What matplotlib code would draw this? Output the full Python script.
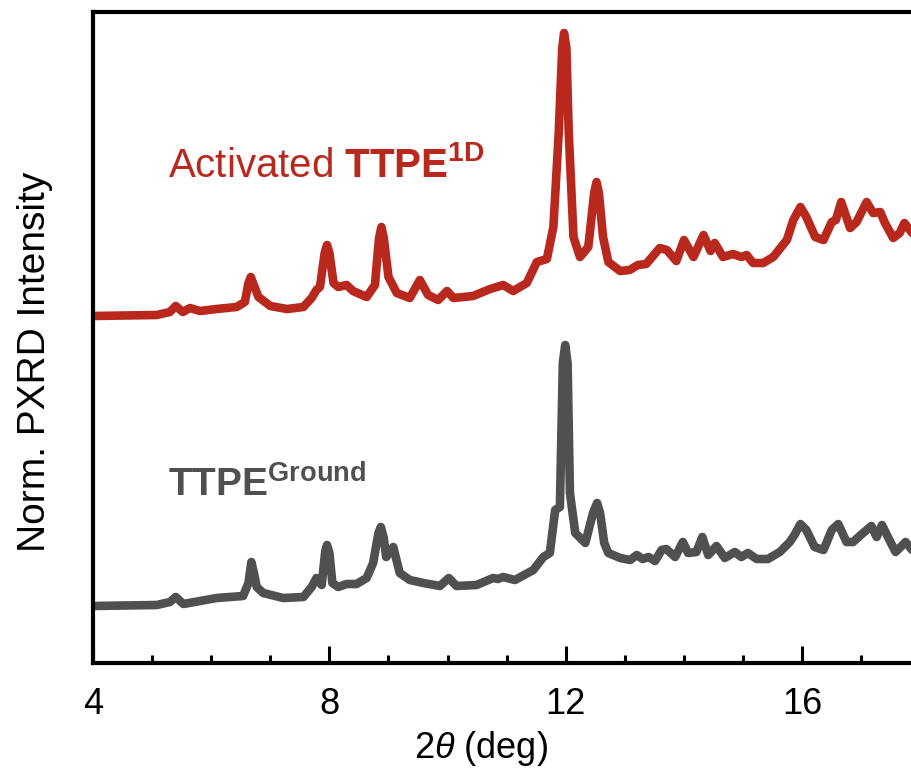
import numpy as np
import matplotlib.pyplot as plt

plt.rcParams['font.family'] = ['Liberation Sans', 'DejaVu Sans']
plt.rcParams['mathtext.fontset'] = 'custom'
plt.rcParams['mathtext.rm'] = 'Liberation Sans'
plt.rcParams['mathtext.it'] = 'Liberation Sans:italic'
plt.rcParams['mathtext.bf'] = 'Liberation Sans:bold'

# PXRD patterns (2theta in deg, stacked normalised intensity)
tt_act = [4.00, 5.08, 5.30, 5.40, 5.52, 5.64, 5.81, 6.09, 6.43, 6.57, 6.63, 6.67, 6.72, 6.80,
          7.00, 7.28, 7.56, 7.70, 7.78, 7.84, 7.92, 7.96, 8.00, 8.07, 8.15, 8.29, 8.40, 8.63,
          8.77, 8.84, 8.88, 8.92, 9.00, 9.14, 9.36, 9.53, 9.67, 9.84, 9.99, 10.10, 10.43, 10.72,
          10.94, 11.11, 11.34, 11.51, 11.68, 11.79, 11.88, 11.94, 11.97, 12.01, 12.05, 12.13,
          12.24, 12.38, 12.48, 12.52, 12.56, 12.63, 12.72, 12.92, 13.08, 13.22, 13.36, 13.59, 13.71,
          13.87, 14.00, 14.16, 14.33, 14.45, 14.52, 14.66, 14.83, 14.97, 15.06, 15.17,
          15.34, 15.51, 15.74, 15.85, 15.97, 16.07, 16.22, 16.36, 16.50, 16.57, 16.66,
          16.81, 16.92, 17.09, 17.20, 17.32, 17.40, 17.54, 17.65, 17.73, 17.86, 17.95]
int_act = [347, 348, 351, 357, 351, 355, 352, 354, 356, 361, 380, 386, 378, 366,
           357, 354, 356, 365, 373, 376, 410, 418, 410, 380, 376, 378, 372, 366,
           378, 425, 436, 425, 386, 370, 365, 383, 368, 363, 372, 365, 367, 374,
           378, 372, 380, 401, 404, 436, 530, 615, 630, 615, 530, 426,
           406, 416, 470, 481, 470, 426, 401, 392, 393, 398, 399, 415, 413,
           402, 423, 406, 428, 412, 420, 406, 409, 406, 408, 400,
           400, 406, 423, 443, 456, 446, 426, 423, 441, 443, 461,
           435, 441, 461, 450, 451, 440, 425, 430, 440, 430, 425]

tt_gnd = [4.00, 5.08, 5.30, 5.40, 5.53, 6.09, 6.54, 6.63, 6.68, 6.73, 6.77, 6.88, 7.22,
          7.56, 7.70, 7.78, 7.87, 7.93, 7.96, 8.00, 8.05, 8.15, 8.29, 8.46, 8.63, 8.74, 8.83, 8.87,
          8.92, 8.96, 9.08, 9.19, 9.36, 9.59, 9.87, 10.02, 10.15, 10.49, 10.77, 10.85, 10.94,
          11.14, 11.45, 11.62, 11.73, 11.82, 11.90, 11.95, 11.99, 12.03, 12.07, 12.16,
          12.33, 12.46, 12.53, 12.58, 12.65, 12.72, 12.92, 13.09, 13.20, 13.30, 13.40, 13.51,
          13.62, 13.70, 13.85, 13.98, 14.07, 14.21, 14.31, 14.41, 14.55, 14.69, 14.86,
          14.97, 15.08, 15.23, 15.42, 15.62, 15.79, 15.87, 15.97, 16.07, 16.21, 16.36,
          16.50, 16.61, 16.75, 16.86, 17.03, 17.17, 17.26, 17.35, 17.45, 17.58, 17.75,
          17.86, 17.95]
int_gnd = [57, 58, 61, 66, 59, 65, 67, 80, 101, 88, 76, 70, 65,
           66, 76, 85, 78, 112, 118, 110, 80, 76, 79, 79, 85, 100, 130, 136,
           125, 106, 116, 90, 83, 80, 77, 85, 77, 78, 85, 84, 86,
           83, 93, 106, 110, 153, 156, 300, 318, 300, 170, 130,
           120, 150, 160, 150, 120, 110, 105, 103, 108, 104, 106, 102,
           113, 114, 106, 121, 110, 111, 126, 108, 117, 105, 111,
           106, 110, 104, 104, 111, 121, 128, 139, 133, 116, 113,
           133, 139, 121, 121, 130, 137, 126, 138, 126, 111, 121,
           113, 110]

red = '#B9281D'
grey = '#505050'

fig = plt.figure(figsize=(9.12, 7.8), dpi=100)
ax = fig.add_axes([93 / 912, 1 - 663 / 780, 14.5 * 59.1 / 912, 651 / 780])

ax.plot(tt_act, int_act, color=red, lw=6.2, solid_joinstyle='round', solid_capstyle='round')
ax.plot(tt_gnd, int_gnd, color=grey, lw=6.2, solid_joinstyle='round', solid_capstyle='round')

ax.set_xlim(4, 18.5)
ax.set_ylim(0, 651)
ax.set_xticks([4, 8, 12, 16])
ax.set_xticks(np.arange(4, 19, 1), minor=True)
ax.set_yticks([])
ax.tick_params(axis='x', which='major', direction='in', length=12.5, width=2.2,
               labelsize=26, pad=17)
ax.tick_params(axis='x', which='minor', direction='in', length=6, width=2.2)
for s in ax.spines.values():
    s.set_linewidth(3)

ax.text(5.27, 486, r'Activated $\mathbf{TTPE}^{\mathbf{1D}}$', color=red, fontsize=29)
ax.text(5.27, 166, r'$\mathbf{TTPE}^{\mathbf{Ground}}$', color=grey, fontsize=28)

fig.text(35 / 912, 1 - 362 / 780, 'Norm. PXRD Intensity', rotation=90,
         fontsize=28, ha='center', va='center')
fig.text(481 / 912, 1 - 748 / 780, r'$\mathit{2\theta}$ (deg)', fontsize=26,
         ha='center', va='center')

fig.savefig('out.png', dpi=100)
